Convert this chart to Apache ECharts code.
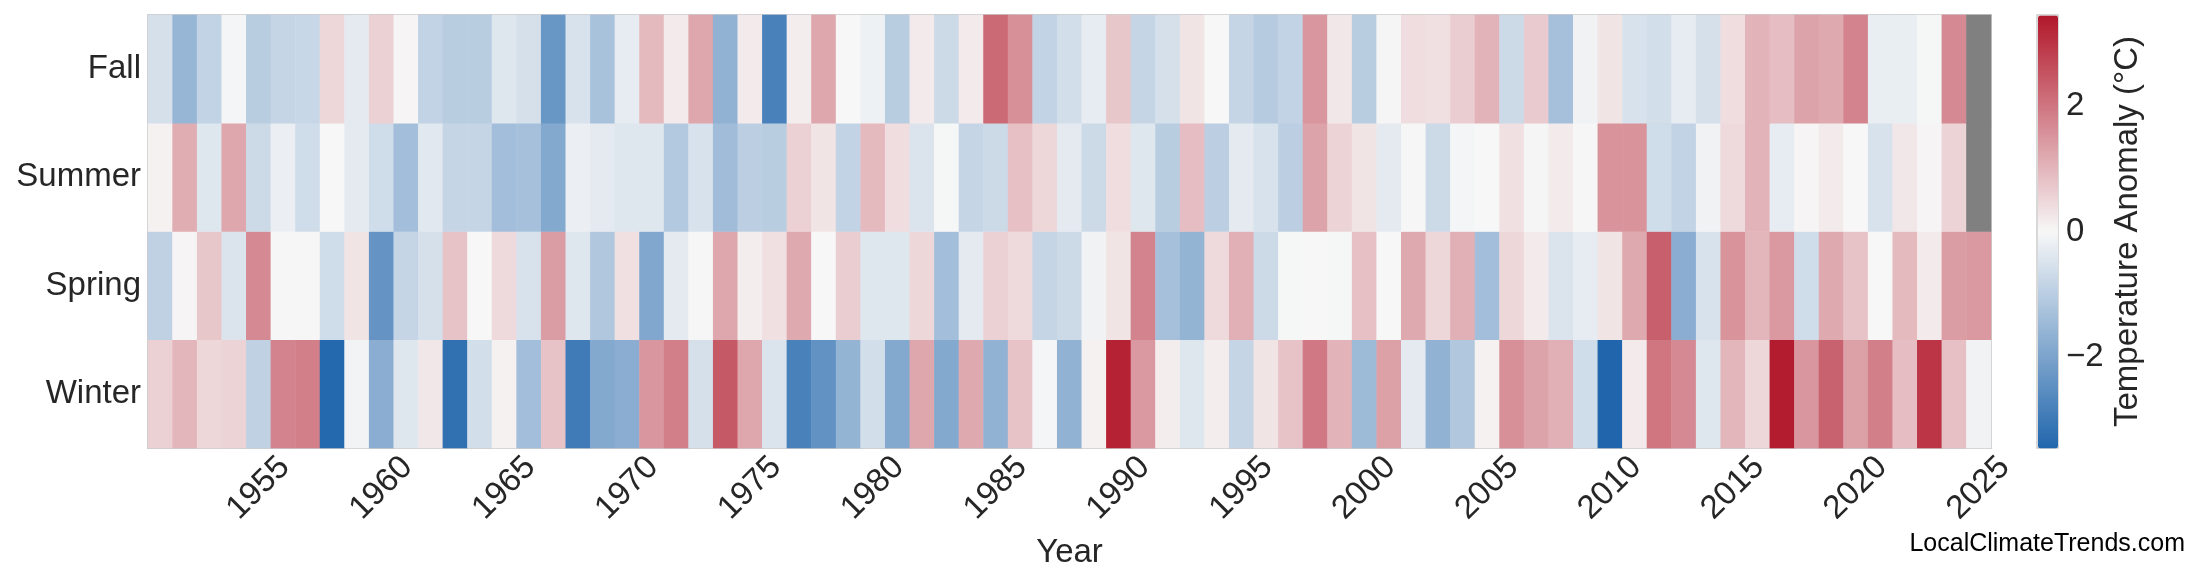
<!DOCTYPE html>
<html><head><meta charset="utf-8">
<script src="https://cdn.jsdelivr.net/npm/echarts@6.0.0/dist/echarts.min.js"></script>
<style>html,body{margin:0;padding:0;background:#fff}#c{width:2200px;height:585px}</style>
</head><body><div id="c"></div>
<script>
// ---- data ----
const years = [1951,1952,1953,1954,1955,1956,1957,1958,1959,1960,1961,1962,1963,1964,1965,
  1966,1967,1968,1969,1970,1971,1972,1973,1974,1975,1976,1977,1978,1979,1980,
  1981,1982,1983,1984,1985,1986,1987,1988,1989,1990,1991,1992,1993,1994,1995,
  1996,1997,1998,1999,2000,2001,2002,2003,2004,2005,2006,2007,2008,2009,2010,
  2011,2012,2013,2014,2015,2016,2017,2018,2019,2020,2021,2022,2023,2024,2025];
const seasons = ['Winter', 'Spring', 'Summer', 'Fall'];
const tickYears = [1955,1960,1965,1970,1975,1980,1985,1990,1995,2000,2005,2010,2015,2020,2025];
const colorbarTicks = [-2, 0, 2];

const winter = [0.6, 1.0, 0.5, 0.55, -0.9, 1.8, 1.85, -3.4, -0.1, -1.75, -0.4, 0.25, -3.2, -0.6, 0.1,
  -1.35, 0.8, -2.95, -1.85, -1.75, 1.5, 1.85, -0.55, 2.45, 1.25, -0.45, -2.8, -2.4, -1.6, -0.6,
  -1.85, 1.25, -1.85, 1.2, -1.65, 0.8, -0.05, -1.65, 0.1, 3.3, 1.45, 0.15, -0.4, 0.15, -0.8,
  0.3, 0.8, 1.95, 1.05, -1.45, 1.35, -0.3, -1.65, -1.15, 0.1, 1.6, 1.3, 1.1, -0.65, -3.45,
  0.2, 2.0, 1.7, -0.4, 1.0, 0.5, 3.4, 1.5, 2.3, 1.35, 1.85, 0.9, 3.0, 0.85, -0.12];
const spring = [-0.9, 0.05, 0.75, -0.45, 1.7, -0.02, 0.02, -0.65, 0.3, -2.35, -0.8, -0.55, 0.8, 0.0, 0.45,
  -0.5, 1.4, -0.4, -1.15, 0.35, -1.9, -0.3, 0.02, 1.25, 0.15, 0.35, 1.2, 0.0, 0.65, -0.4,
  -0.4, 0.5, -1.35, -0.3, 0.6, 0.45, -0.8, -0.7, -0.12, 0.3, 1.8, -1.3, -1.6, 0.45, 1.1,
  -0.7, -0.03, 0.0, -0.03, 0.85, 0.0, 1.2, 0.5, 1.1, -1.35, 0.5, 0.2, -0.45, -0.25, 0.3,
  1.2, 2.35, -1.75, -0.5, 1.55, 1.0, 1.45, -0.65, 1.2, 0.8, 0.0, 0.95, 0.2, 1.4, 1.45];
const summer = [0.1, 1.15, -0.4, 1.25, -0.7, -0.2, -0.65, 0.0, -0.3, -0.65, -1.35, -0.35, -0.8, -0.8, -1.35,
  -1.3, -1.85, -0.2, -0.3, -0.4, -0.4, -1.1, -0.5, -1.4, -0.95, -1.0, 0.6, 0.3, -0.85, 0.95,
  0.4, -0.45, -0.03, -0.8, -0.7, 0.85, 0.5, -0.3, -0.7, 0.4, -0.4, -1.0, 0.9, -0.95, -0.3,
  -0.5, -0.95, 1.3, 0.55, 0.3, -0.3, -0.02, -0.7, -0.05, 0.0, 0.35, 0.03, 0.2, -0.02, 1.55,
  1.55, -0.65, -0.85, -0.12, 0.45, 1.05, -0.25, 0.05, 0.2, 0.0, -0.5, 0.25, 0.05, 0.55, null];
const fall = [-0.55, -1.55, -0.85, -0.05, -1.0, -0.8, -0.75, 0.5, -0.3, 0.6, 0.05, -0.85, -1.0, -1.0, -0.4,
  -0.55, -2.3, -0.5, -1.25, -0.25, 0.95, 0.2, 1.25, -1.65, 0.2, -2.8, 0.15, 1.25, 0.0, -0.15,
  -1.0, 0.2, -0.7, 0.2, 2.2, 1.6, -0.85, -0.6, -0.25, 0.75, -0.8, -0.55, 0.3, 0.0, -0.8,
  -1.05, -0.85, 1.5, 0.25, -1.0, 0.03, 0.4, 0.35, 0.65, 1.05, -0.7, 0.7, -1.3, -0.12, 0.3,
  -0.5, -0.6, -0.25, -0.55, 0.4, 1.05, 0.9, 1.3, 1.2, 1.8, -0.22, -0.22, -0.03, 1.7, null];
const vLimit = 3.45;

// ---- build ----
const seasonValues = [winter, spring, summer, fall];
const cells = [], missing = [];
seasonValues.forEach((arr, yi) => arr.forEach((v, xi) => {
  if (v === null) missing.push([xi, yi, 0]); else cells.push([xi, yi, v]);
}));

const FONT = '"Liberation Sans", Arial, Helvetica, sans-serif';
const TXT = '#262626';
const chart = echarts.init(document.getElementById('c'), null, {renderer: 'canvas'});
chart.setOption({
  backgroundColor: '#ffffff',
  animation: false,
  textStyle: {fontFamily: FONT},
  grid: [
    {left: 148, top: 15, width: 1843, height: 433, show: true, borderColor: '#cccccc', borderWidth: 2,
     backgroundColor: 'transparent', containLabel: false, outerBoundsMode: 'none'},
    {left: 2037, top: 15, width: 21, height: 433, show: true, borderColor: '#cccccc', borderWidth: 1.5,
     backgroundColor: 'transparent', containLabel: false, outerBoundsMode: 'none'}
  ],
  xAxis: [
    {type: 'category', gridIndex: 0, data: years.map(String),
     axisLine: {show: false}, axisTick: {show: false}, splitLine: {show: false},
     axisLabel: {interval: (i, v) => tickYears.includes(+v), rotate: 45, align: 'center', verticalAlign: 'middle',
       margin: 40, fontSize: 33, color: TXT, fontFamily: FONT, hideOverlap: false},
     name: 'Year', nameLocation: 'middle', nameGap: 88, nameMoveOverlap: false,
     nameTextStyle: {fontSize: 33, color: TXT, fontFamily: FONT}},
    {type: 'value', gridIndex: 1, show: false, min: 0, max: 1}
  ],
  yAxis: [
    {type: 'category', gridIndex: 0, data: seasons,
     axisLine: {show: false}, axisTick: {show: false}, splitLine: {show: false},
     axisLabel: {margin: 7, fontSize: 33, color: TXT, fontFamily: FONT, padding: [8, 0, 0, 0]}},
    {type: 'value', gridIndex: 1, position: 'right', min: -vLimit, max: vLimit,
     axisLine: {show: false}, axisTick: {show: false}, splitLine: {show: false},
     axisLabel: {customValues: colorbarTicks, margin: 8, fontSize: 33, color: TXT, fontFamily: FONT, padding: [3, 0, 0, 0],
       formatter: v => (v < 0 ? '\u2212' + Math.abs(v) : String(v))},
     name: 'Temperature Anomaly (°C)', nameLocation: 'middle', nameRotate: 90, nameGap: 53, nameMoveOverlap: false,
     nameTextStyle: {fontSize: 33, color: TXT, fontFamily: FONT}}
  ],
  visualMap: {
    type: 'continuous', seriesIndex: 0, min: -vLimit, max: vLimit, calculable: false, hoverLink: false,
    orient: 'vertical', left: 2038, top: 15.5, itemWidth: 20, itemHeight: 433, padding: 0, text: null,
    inRange: {color: ['#2166ac', '#f7f7f7', '#b2182b']}
  },
  series: [
    {type: 'heatmap', xAxisIndex: 0, yAxisIndex: 0, data: cells, itemStyle: {borderWidth: 0}, emphasis: {disabled: true}},
    {type: 'heatmap', xAxisIndex: 0, yAxisIndex: 0, data: missing, itemStyle: {color: '#808080', borderWidth: 0}, emphasis: {disabled: true}}
  ],
  graphic: [
    {type: 'text', right: 15, top: 532, style: {text: 'LocalClimateTrends.com', font: '25px "Liberation Sans", Arial, sans-serif', fill: '#000000'}}
  ]
});
</script></body></html>
